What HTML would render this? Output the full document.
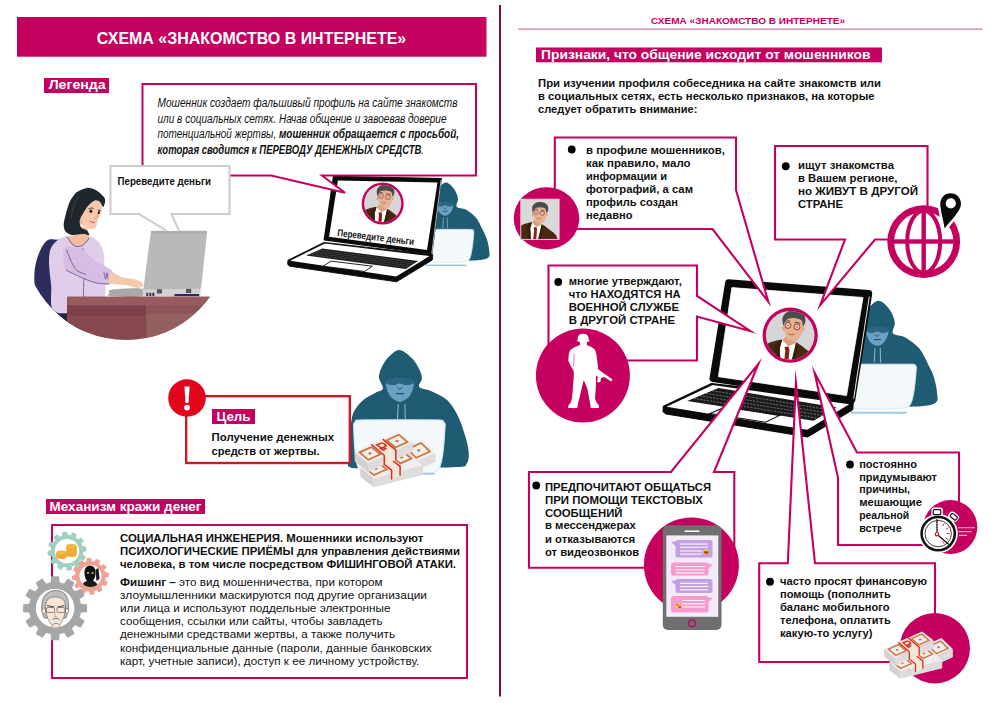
<!DOCTYPE html>
<html lang="ru"><head><meta charset="utf-8"><title>Схема «Знакомство в интернете»</title>
<style>
html,body{margin:0;padding:0;background:#fff;}
body{width:1000px;height:707px;overflow:hidden;font-family:"Liberation Sans",sans-serif;}
svg{display:block;font-family:"Liberation Sans",sans-serif;}
</style></head><body>
<svg width="1000" height="707" viewBox="0 0 1000 707">
<!-- page frame -->
<rect x="0" y="0" width="1000" height="707" fill="#ffffff"/>
<rect x="499" y="5" width="2" height="691.5" fill="#7a0a40"/>
<rect x="17" y="17" width="469.5" height="39.7" fill="#c6005f"/>
<rect x="518" y="28.5" width="464.5" height="1.3" fill="#cd7fab"/>
<rect x="44" y="78" width="65" height="15" fill="#c6005f"/>
<rect x="46" y="499" width="159" height="15" fill="#c6005f"/>
<rect x="536" y="47.5" width="346" height="14.8" fill="#c6005f"/>
<defs>
<clipPath id="womanclip"><circle cx="126" cy="237" r="103"/></clipPath>
</defs>
<!-- woman at desk -->
<g clip-path="url(#womanclip)">
<path d="M54.2 239.5 C48.3 238.5 46.7 240.5 43.7 244.2 C40.7 247.9 37.8 255.7 36.2 261.7 C34.6 267.7 34.1 274.1 34.3 280.4 C34.6 286.6 35.7 293.8 37.8 299.0 C40.0 304.3 43.5 307.6 47.2 311.9 C50.9 316.1 54.8 321.8 60.0 324.7 C65.3 327.6 75.6 341.8 78.7 329.4 C81.8 316.9 82.8 265.0 78.7 250.0 C74.6 235.0 60.0 240.5 54.2 239.5 Z" fill="#2c2d5c"/>
<path d="M53.0 306.0 L85.7 306.0 L85.7 343.4 L53.0 343.4 Z" fill="#23234a"/>
<path d="M69.3 235.5 C66.0 235.3 61.9 237.5 58.8 239.5 C55.8 241.5 52.8 244.0 51.1 247.7 C49.5 251.4 49.0 255.5 49.0 261.7 C49.0 267.9 50.3 276.8 51.1 285.0 C52.0 293.3 48.8 306.7 54.2 311.2 C59.5 315.6 75.4 311.9 83.3 311.9 C91.3 311.8 98.3 314.4 102.0 310.7 C105.7 307.0 105.1 296.7 105.5 289.7 C105.9 282.7 104.6 274.5 104.3 268.7 C104.1 262.8 104.7 259.0 103.9 254.7 C103.0 250.3 101.8 245.7 99.2 242.5 C96.6 239.4 91.8 236.2 88.5 236.0 C85.1 235.8 82.3 241.2 79.1 241.1 C76.0 241.1 72.7 235.8 69.3 235.5 Z" fill="#e0cdea"/>
<path d="M82.9 247.7 C83.0 252.0 83.7 264.8 83.8 273.3 C83.9 281.9 83.4 294.7 83.3 299.0" fill="none" stroke="#5a3d7a" stroke-width="0.7"/>
<path d="M63.5 250.0 C64.3 246.1 67.2 246.5 70.5 246.5 C73.8 246.5 79.3 247.7 83.3 250.0 C87.4 252.3 90.1 256.9 95.0 260.5 C99.9 264.1 110.1 267.6 112.5 271.5 C114.9 275.4 112.4 282.0 109.5 283.9 C106.6 285.7 100.3 284.0 95.0 282.7 C89.7 281.3 82.4 277.8 77.5 275.7 C72.6 273.5 68.2 274.1 65.8 269.8 C63.5 265.6 62.7 253.9 63.5 250.0 Z" fill="#d6bde3"/>
<path d="M65.8 269.8 C67.8 270.8 72.6 273.5 77.5 275.7 C82.4 277.8 89.7 281.3 95.0 282.7 C100.3 284.0 107.1 283.7 109.5 283.9" fill="none" stroke="#5a3d7a" stroke-width="0.7"/>
<path d="M66.5 250.0 C68.0 253.1 71.9 264.6 75.2 268.7 C78.4 272.8 84.3 273.5 86.1 274.5" fill="none" stroke="#5a3d7a" stroke-width="0.7"/>
<path d="M103.9 272.2 L105.5 279.2 L107.1 272.9 L108.5 279.9" fill="none" stroke="#5a3d7a" stroke-width="0.7"/>
<path d="M110.9 272.9 C113.2 272.0 119.0 276.5 123.0 277.5 C127.0 278.6 131.6 278.4 134.7 279.2 C137.8 280.0 140.3 281.1 141.7 282.2 C143.0 283.4 143.6 285.3 142.9 286.2 C142.1 287.1 139.5 287.9 137.0 287.8 C134.5 287.7 130.8 286.0 127.7 285.5 C124.6 284.9 121.5 285.0 118.3 284.6 C115.2 284.1 110.3 284.6 109.0 282.7 C107.8 280.7 108.5 273.7 110.9 272.9 Z" fill="#f6c9ad"/>
<path d="M78.2 225.8 C79.3 225.3 86.7 228.0 87.7 229.0 C88.7 230.0 88.0 235.0 88.1 236.0 C88.3 237.0 89.6 238.0 89.1 238.8 C88.7 239.6 85.0 243.5 83.9 244.3 C82.8 245.0 79.3 246.4 78.2 246.4 C77.1 246.5 73.9 245.6 72.8 244.7 C71.8 243.8 67.1 238.6 67.5 237.5 C67.9 236.5 75.6 235.3 76.7 234.1 C77.7 232.9 77.1 226.3 78.2 225.8 Z" fill="#f2bd9e"/>
<path d="M67.0 237.0 C68.0 238.3 71.0 243.1 72.8 244.7 C74.7 246.3 76.3 246.6 78.2 246.6 C80.0 246.5 82.1 245.8 83.9 244.4 C85.7 243.0 88.3 239.1 89.1 238.0" fill="none" stroke="#5a3d7a" stroke-width="0.8"/>
<path d="M90.9 199.1 C92.8 198.3 98.5 200.0 99.8 201.0 C101.1 202.0 102.0 206.1 102.1 207.4 C102.2 208.6 101.1 210.8 100.8 211.8 C100.6 212.9 100.4 215.5 100.1 216.3 C99.8 217.1 98.6 217.9 98.3 218.4 C98.0 219.0 97.7 220.3 97.5 221.0 C97.4 221.7 97.2 223.5 96.9 224.3 C96.6 225.1 95.9 227.6 95.1 228.1 C94.3 228.7 91.5 229.3 90.3 229.1 C89.0 229.0 85.8 227.4 84.6 226.6 C83.3 225.8 80.1 223.3 79.5 222.0 C78.8 220.7 78.4 217.3 78.8 215.6 C79.3 214.0 81.9 209.9 83.3 208.0 C84.7 206.1 89.0 199.9 90.9 199.1 Z" fill="#f7c8ab"/>
<ellipse cx="80.5" cy="221.8" rx="2" ry="3" fill="#efb594"/>
<path d="M87.1 187.9 C89.6 187.6 93.8 189.0 96.0 190.2 C98.2 191.3 102.4 195.1 103.6 196.5 C104.9 198.0 105.2 199.6 105.2 201.0 C105.1 202.4 103.9 206.9 103.3 207.0 C102.6 207.1 101.2 202.8 100.1 201.9 C98.9 201.0 96.3 199.9 94.7 200.4 C93.2 200.8 89.9 203.8 88.4 205.5 C86.8 207.2 84.4 211.1 83.3 213.1 C82.1 215.1 80.0 218.6 79.7 220.5 C79.4 222.4 80.0 226.0 81.0 227.4 C81.9 228.7 85.7 229.4 86.8 230.4 C88.0 231.4 89.5 234.5 89.4 235.0 C89.3 235.5 87.1 234.5 86.1 234.4 C85.1 234.2 83.9 234.0 82.0 234.1 C80.1 234.2 74.0 235.3 71.8 235.0 C69.6 234.7 66.5 232.9 65.5 231.6 C64.4 230.2 63.6 227.0 63.7 224.6 C63.8 222.1 65.3 216.2 66.1 213.1 C66.9 210.0 68.5 204.4 69.9 201.6 C71.4 198.8 74.6 193.9 76.9 192.1 C79.2 190.3 84.6 188.1 87.1 187.9 Z" fill="#20272c"/>
<path d="M78.2 196.5 C77.3 198.2 74.3 203.1 73.1 206.7 C71.9 210.3 71.5 216.3 71.2 218.2" fill="none" stroke="#56606a" stroke-width="0.5"/>
<ellipse cx="90.9" cy="211.3" rx="1.4" ry="1.8" fill="#1a1a1a"/>
<ellipse cx="98.9" cy="212.6" rx="1.0" ry="1.6" fill="#1a1a1a"/>
<path d="M88.4 209.0 C88.8 208.9 90.0 208.1 90.9 208.0 C91.8 207.9 93.3 208.4 93.7 208.5" stroke="#1a1a1a" stroke-width="0.8" fill="none"/>
<path d="M97.8 210.0 L100.8 210.8" stroke="#1a1a1a" stroke-width="0.8" fill="none"/>
<path d="M97.5 213.7 C97.4 214.4 97.3 217.2 96.8 217.9 C96.2 218.7 94.7 218.1 94.2 218.2" stroke="#c98a6c" stroke-width="0.8" fill="none"/>
<path d="M89.9 221.0 C90.3 221.2 91.6 222.3 92.4 222.5 C93.3 222.7 94.6 222.1 95.0 222.0" stroke="#a84a40" stroke-width="0.9" fill="none"/>
<path d="M111.8 289.7 C117.2 288.9 136.5 287.7 141.7 288.8 C146.9 289.8 148.0 295.0 142.9 296.2 C137.7 297.5 116.4 296.7 110.9 296.2 C105.3 295.7 109.3 294.3 109.5 293.2 C109.6 292.1 106.4 290.4 111.8 289.7 Z" fill="#a9a9a9"/>
<path d="M142.9 287.8 L200.5 287.8 L200.5 296.2 L142.9 296.2 Z" fill="#d2d2d2"/>
<path d="M156.9 287.8 L162.0 287.8 L162.0 293.4 L156.9 293.4 Z" fill="#55565e"/>
<path d="M186.0 287.8 L191.2 287.8 L191.2 293.0 L186.0 293.0 Z" fill="#55565e"/>
<path d="M146.4 292.7 L148.2 292.7 L148.2 296.2 L146.4 296.2 Z" fill="#2b2c55"/>
<path d="M149.4 292.7 L151.3 292.7 L151.3 296.2 L149.4 296.2 Z" fill="#2b2c55"/>
<path d="M152.4 292.7 L154.3 292.7 L154.3 296.2 L152.4 296.2 Z" fill="#2b2c55"/>
<path d="M174.4 293.9 L199.1 293.9 L199.1 296.2 L174.4 296.2 Z" fill="#2b2c55"/>
<path d="M151.5 231.3 L206.6 231.3 L200.5 288.1 L144.0 288.8 Z" fill="#b9b9b9" stroke="#b9b9b9" stroke-width="1.2" stroke-linejoin="round"/>
<path d="M151.5 231.3 L206.6 231.3 L206.3 233.2 L151.3 233.2 Z" fill="#adadad"/>
<path d="M67.0 296.7 L211.7 296.7 L211.7 348.0 L67.0 348.0 Z" fill="#87494f"/>
<path d="M67.0 296.7 L211.7 296.7 L211.7 305.6 L67.0 305.6 Z" fill="#975b5d"/>
<path d="M67.0 305.6 L146.4 305.6 L146.4 315.4 L67.0 315.4 Z" fill="#7c404a"/>
<path d="M146.4 305.6 L211.7 305.6 L211.7 348.0 L146.4 348.0 Z" fill="#94605f"/>
<path d="M146.4 305.6 L211.7 305.6 L211.7 313.5 L146.4 313.5 Z" fill="#8b5558"/>
</g>
<!-- hacker B-type -->
<path d="M446.0 182.6 C447.9 182.6 450.1 184.5 451.8 186.3 C453.6 188.0 455.2 190.6 456.2 192.8 C457.3 195.0 457.9 197.1 458.0 199.4 C458.1 201.7 455.4 205.0 456.7 206.7 C458.0 208.4 462.5 207.8 465.7 209.6 C468.9 211.5 473.2 214.4 476.0 217.7 C478.8 221.0 480.8 226.0 482.5 229.4 C484.3 232.8 485.4 234.7 486.5 238.1 C487.6 241.5 489.0 246.5 489.1 249.8 C489.3 253.2 490.8 256.5 487.4 258.3 C483.9 260.1 477.9 260.4 468.7 260.8 C459.4 261.2 442.1 261.2 432.1 260.8 C422.1 260.4 412.4 262.6 408.7 258.6 C405.1 254.6 409.0 243.2 410.2 236.7 C411.4 230.1 413.4 223.5 416.0 219.1 C418.7 214.8 423.1 212.4 426.3 210.4 C429.5 208.3 434.0 208.5 435.3 206.7 C436.6 204.9 433.9 201.7 434.0 199.4 C434.1 197.1 434.7 195.0 435.8 192.8 C436.8 190.6 438.4 188.0 440.2 186.3 C441.9 184.5 444.1 182.6 446.0 182.6 Z" fill="#1f5b73"/>
<path d="M437.7 203.4 C439.0 202.5 442.5 202.2 445.0 202.2 C447.5 202.2 451.3 202.5 452.6 203.4 C453.9 204.2 453.2 205.9 452.9 207.4 C452.5 209.0 451.6 211.2 450.5 212.6 C449.5 213.9 447.9 215.0 446.7 215.5 C445.6 216.0 444.7 216.0 443.5 215.5 C442.3 215.0 440.5 213.9 439.4 212.6 C438.4 211.2 437.5 209.0 437.2 207.4 C436.9 205.9 436.4 204.2 437.7 203.4 Z" fill="#6aa0c2"/>
<path d="M437.4 203.1 C438.7 202.4 442.4 201.6 445.0 201.6 C447.6 201.6 451.5 202.4 452.9 203.1 C454.2 203.7 453.7 204.8 453.0 205.4 C452.3 206.0 449.8 206.4 448.5 206.4 C447.1 206.4 446.1 205.3 445.0 205.3 C443.8 205.3 442.8 206.4 441.5 206.4 C440.2 206.4 437.9 206.0 437.2 205.4 C436.5 204.8 436.1 203.7 437.4 203.1 Z" fill="#2a6583"/>
<path d="M443.5 207.4 C443.8 207.7 444.5 208.9 445.0 208.9 C445.5 208.9 446.2 207.7 446.4 207.4" stroke="#1b4459" stroke-width="0.66" fill="none"/>
<path d="M442.6 211.2 L447.6 211.2" stroke="#1b4459" stroke-width="0.74" fill="none"/>
<path d="M443.4 217.4 L442.8 228.2" stroke="#9fc3d3" stroke-width="0.66" fill="none"/>
<path d="M447.2 217.4 L447.5 228.2" stroke="#9fc3d3" stroke-width="0.66" fill="none"/>
<path d="M417.5 232.3 C417.4 229.7 418.4 230.3 418.7 230.1 C419.0 229.9 416.9 229.4 421.2 229.4 C425.4 229.3 465.8 229.3 470.1 229.4 C474.4 229.4 472.4 229.8 472.7 230.1 C473.1 230.4 474.3 230.0 473.9 232.6 C473.5 235.1 472.5 258.4 468.1 260.8 C463.6 263.1 424.6 263.2 420.4 260.8 C416.2 258.4 417.6 234.8 417.5 232.3 Z" fill="#f3f8fb" stroke="#d5e8f1" stroke-width="0.66"/>
<path d="M425.5 265.2 L466.6 265.2" stroke="#9ccbe0" stroke-width="1.48" fill="none"/>
<!-- left laptop -->
<path d="M324.0 242.4 L287.9 260.3 L287.7 264.4 L289.7 266.2 L396.6 281.8 L432.3 260.0 L432.7 254.8 Z" fill="#0a0a0a" stroke="#0a0a0a" stroke-width="0.9" stroke-linejoin="round"/>
<path d="M324.9 243.5 L290.1 260.7 L396.2 276.6 L429.6 256.1 Z" fill="#fff"/>
<path d="M322.2 248.6 L306.0 255.6 L405.9 268.9 L418.2 260.9 Z" fill="#1b1b1b"/>
<path d="M319.0 250.0 L415.7 262.5" stroke="#e8e8e8" stroke-width="0.45" stroke-dasharray="1.6 0.9" stroke-opacity="0.5" fill="none"/>
<path d="M315.7 251.4 L413.2 264.1" stroke="#e8e8e8" stroke-width="0.45" stroke-dasharray="1.6 0.9" stroke-opacity="0.5" fill="none"/>
<path d="M312.5 252.8 L410.8 265.7" stroke="#e8e8e8" stroke-width="0.45" stroke-dasharray="1.6 0.9" stroke-opacity="0.5" fill="none"/>
<path d="M309.2 254.2 L408.3 267.3" stroke="#e8e8e8" stroke-width="0.45" stroke-dasharray="1.6 0.9" stroke-opacity="0.5" fill="none"/>
<path d="M331.0 261.1 L323.1 266.2 L364.7 271.5 L372.4 266.2 Z" fill="#fff" stroke="#0a0a0a" stroke-width="0.9"/>
<path d="M333.5 176.4 L441.3 178.6 L431.8 254.1 L324.2 239.8 Z" fill="#0a0a0a" stroke="#0a0a0a" stroke-width="1.2" stroke-linejoin="round"/>
<path d="M337.9 180.4 L437.5 182.4 L427.0 249.9 L329.1 236.7 Z" fill="#fff"/>
<path d="M441.1 180.0 L431.8 253.4" stroke="#fff" stroke-width="0.7" fill="none"/>
<circle cx="382.7" cy="203.5" r="21" fill="#c6005f"/>
<clipPath id="manclip1"><circle cx="382.7" cy="203.5" r="18.6"/></clipPath>
<circle cx="382.7" cy="203.5" r="18.6" fill="#d6d6d6"/>
<g clip-path="url(#manclip1)">
<path d="M375.3 207.0 C373.1 207.1 366.2 209.1 364.9 210.2 C363.7 211.2 362.6 215.3 362.4 217.8 C362.1 220.3 358.6 233.4 362.8 235.1 C366.9 236.8 399.9 236.5 403.9 235.1 C407.9 233.7 403.9 223.3 403.0 221.3 C402.2 219.2 397.2 216.2 395.7 215.0 C394.1 213.8 389.5 209.9 387.5 209.1 C385.4 208.3 377.6 206.9 375.3 207.0 Z" fill="#472a12"/>
<path d="M376.5 207.0 L374.6 213.5 L375.8 235.1 L381.8 235.1 L387.0 210.0 L386.2 207.4 Z" fill="#ffffff"/>
<path d="M375.3 207.0 L370.6 211.3 L374.6 235.1 L376.0 235.1 L374.6 213.5 L376.5 207.2 Z" fill="#3a200c"/>
<path d="M387.0 209.6 L389.2 213.5 L382.3 235.1 L380.7 235.1 Z" fill="#3a200c"/>
<path d="M379.5 204.4 L386.8 205.2 L386.6 209.6 L381.4 212.2 L376.6 207.2 Z" fill="#d9a27e"/>
<path d="M378.4 212.6 L381.4 212.2 L382.1 214.8 L380.5 235.1 L376.6 235.1 L379.0 215.6 Z" fill="#8f1d14"/>
<path d="M378.4 191.4 C379.6 189.9 383.0 189.1 385.3 189.2 C387.6 189.4 391.0 190.7 392.2 192.2 C393.4 193.8 392.8 196.6 392.5 198.7 C392.1 200.9 391.1 203.6 390.1 205.2 C389.0 206.8 387.4 207.9 386.2 208.3 C384.9 208.6 383.8 208.1 382.7 207.4 C381.6 206.7 380.3 205.5 379.5 203.9 C378.7 202.3 378.3 200.0 378.1 197.9 C377.9 195.8 377.2 192.8 378.4 191.4 Z" fill="#e6b391"/>
<ellipse cx="377.7" cy="198.3" rx="1.07" ry="1.84" fill="#dea583"/>
<ellipse cx="392.7" cy="198.7" rx="0.92" ry="1.68" fill="#dea583"/>
<path d="M377.5 196.1 C377.2 195.7 376.4 191.8 376.9 190.1 C377.4 188.3 378.9 186.6 380.5 185.7 C382.2 184.9 384.6 184.5 386.6 184.7 C388.6 184.9 391.4 185.8 392.7 187.0 C394.0 188.3 394.4 190.7 394.4 192.2 C394.4 193.8 393.2 196.6 392.7 196.6 C392.2 196.6 392.4 193.3 391.4 192.2 C390.3 191.2 388.3 190.7 386.6 190.5 C384.9 190.3 382.7 190.6 381.4 190.9 C380.1 191.3 379.6 192.0 379.0 192.8 C378.3 193.7 377.9 196.6 377.5 196.1 Z" fill="#4c4c4c"/>
<circle cx="381.0" cy="196.0" r="2.30" fill="#f6ddd0" fill-opacity="0.4" stroke="#7d2630" stroke-width="0.61"/>
<circle cx="387.9" cy="197.2" r="2.30" fill="#f6ddd0" fill-opacity="0.4" stroke="#7d2630" stroke-width="0.61"/>
<circle cx="381.0" cy="196.0" r="0.46" fill="#333"/>
<circle cx="387.9" cy="197.2" r="0.46" fill="#333"/>
<path d="M378.4 192.8 L382.7 192.5" stroke="#3a3a3a" stroke-width="0.69" fill="none"/>
<path d="M386.2 193.5 L390.5 194.4" stroke="#3a3a3a" stroke-width="0.69" fill="none"/>
<path d="M381.4 202.4 C381.8 202.5 382.8 203.0 383.6 203.1 C384.4 203.1 385.8 202.9 386.3 202.8" stroke="#9b5a48" stroke-width="0.69" fill="none"/>
</g>
<!-- legend box + tail -->
<path d="M142.5 84 H476 V175.5 H322 L345 192.8 L271 175.5 H142.5 Z" fill="#fff" stroke="#c6005f" stroke-width="2" stroke-linejoin="miter"/>
<!-- speech bubble (grey) -->
<path d="M166.3 230.6 L139 214 H110.5 V166 H229.5 V214 H171.5 L179 230.6 Z" fill="#fff"/>
<path d="M166.3 230.6 L139 214 H110.5 V166 H229.5 V214 H171.5 L179 230.6" fill="none" stroke="#cdcdcd" stroke-width="2.1" stroke-linejoin="miter"/>
<!-- hacker A -->
<path d="M399.2 349.9 C402.9 349.9 407.9 354.4 411.2 357.5 C414.5 360.6 417.1 365.0 418.9 368.5 C420.7 372.0 421.9 375.2 421.9 378.3 C422.0 381.4 417.6 384.9 419.3 387.1 C421.0 389.3 427.4 389.3 432.0 391.5 C436.7 393.7 443.0 396.1 447.4 400.3 C451.7 404.5 455.2 410.3 458.3 416.7 C461.4 423.1 464.2 432.4 466.0 438.6 C467.7 444.8 468.7 449.7 468.8 453.9 C468.9 458.1 468.4 461.6 466.6 463.8 C464.9 466.0 468.5 466.4 458.3 467.1 C448.2 467.8 423.3 467.8 405.7 468.0 C388.1 468.1 362.0 469.6 352.7 468.0 C343.4 466.4 350.7 462.5 350.1 458.3 C349.5 454.2 349.1 448.1 349.2 443.0 C349.3 437.9 349.8 432.8 350.5 427.6 C351.2 422.5 351.5 416.9 353.6 412.3 C355.7 407.7 359.4 403.5 363.0 400.3 C366.6 397.0 371.7 395.0 375.1 393.0 C378.4 391.1 382.3 391.2 382.9 388.6 C383.6 386.1 379.2 381.2 379.0 377.7 C378.8 374.1 380.0 370.8 381.6 367.4 C383.2 364.0 385.7 360.0 388.6 357.1 C391.6 354.2 395.4 349.8 399.2 349.9 Z" fill="#1f5b73"/>
<path d="M387.1 380.5 C389.3 379.2 395.3 379.0 399.6 379.0 C403.9 379.0 410.4 379.2 412.7 380.5 C415.0 381.9 413.9 384.6 413.4 387.1 C412.9 389.7 411.5 393.5 409.7 395.9 C407.8 398.2 404.5 400.4 402.4 401.3 C400.4 402.3 399.5 402.3 397.4 401.3 C395.3 400.4 391.8 398.2 390.0 395.9 C388.1 393.5 386.9 389.7 386.5 387.1 C386.0 384.6 384.9 381.9 387.1 380.5 Z" fill="#6aa0c2"/>
<path d="M386.7 380.1 C388.9 379.1 395.2 378.1 399.6 378.1 C404.0 378.1 410.9 379.1 413.2 380.1 C415.5 381.0 414.6 383.0 413.4 383.8 C412.2 384.7 408.0 385.2 405.7 385.1 C403.4 385.1 401.6 383.4 399.6 383.4 C397.6 383.4 395.9 385.1 393.7 385.1 C391.5 385.2 387.6 384.7 386.5 383.8 C385.3 383.0 384.5 381.0 386.7 380.1 Z" fill="#2a6583"/>
<path d="M397.4 387.1 C397.8 387.5 398.8 389.3 399.6 389.3 C400.4 389.3 401.8 387.5 402.2 387.1" stroke="#1b4459" stroke-width="1" fill="none"/>
<path d="M395.9 393.7 L404.0 393.7" stroke="#1b4459" stroke-width="1.1" fill="none"/>
<path d="M398.3 404.0 L397.4 420.0" stroke="#9fc3d3" stroke-width="0.9" fill="none"/>
<path d="M404.9 404.0 L405.3 420.0" stroke="#9fc3d3" stroke-width="0.9" fill="none"/>
<path d="M353.6 426.5 C353.1 422.4 354.8 422.1 355.3 421.5 C355.8 421.0 352.8 420.1 359.7 420.0 C366.7 419.8 431.6 419.8 438.6 420.0 C445.6 420.1 442.9 421.0 443.4 421.5 C444.0 422.1 445.7 422.4 445.2 426.5 C444.6 430.7 443.9 467.7 436.8 471.5 C429.8 475.2 367.8 475.2 360.8 471.5 C353.9 467.7 354.0 430.7 353.6 426.5 Z" fill="#f3f8fb" stroke="#d5e8f1" stroke-width="1"/>
<path d="M405.7 473.7 L434.7 473.7" stroke="#9ccbe0" stroke-width="1.8" fill="none"/>
<!-- money -->
<path d="M377.5 459.3 L390.9 472.5 L390.9 482.0 L377.5 468.8 Z" fill="#d6d4d3"/>
<path d="M390.9 472.5 L435.4 452.5 L435.4 461.9 L390.9 482.0 Z" fill="#e2e0df"/>
<path d="M377.5 461.2 L390.9 474.4 L435.4 454.4" stroke="#cbc9c8" stroke-width="0.30" fill="none"/>
<path d="M377.5 463.1 L390.9 476.3 L435.4 456.2" stroke="#cbc9c8" stroke-width="0.30" fill="none"/>
<path d="M377.5 465.0 L390.9 478.2 L435.4 458.1" stroke="#cbc9c8" stroke-width="0.30" fill="none"/>
<path d="M377.5 466.9 L390.9 480.1 L435.4 460.0" stroke="#cbc9c8" stroke-width="0.30" fill="none"/>
<path d="M377.5 459.3 L422.0 439.2 L435.4 452.5 L390.9 472.5 Z" fill="#f0eeed"/>
<path d="M407.3 449.1 L421.1 442.9 L430.0 451.6 L416.2 457.8 Z" fill="none" stroke="#c9743f" stroke-width="1.70"/>
<ellipse cx="418.7" cy="450.4" rx="1.70" ry="1.10" fill="#c9743f"/>
<path d="M398.4 449.8 L402.2 448.1 L415.6 461.4 L415.6 470.9 L411.8 472.6 L411.8 463.1 Z" fill="#f6e6d6"/>
<path d="M398.4 449.8 L411.8 463.1 L411.8 472.6" stroke="#dc2a1f" stroke-width="1.50" fill="none"/>
<path d="M402.2 448.1 L415.6 461.4 L415.6 470.9" stroke="#dc2a1f" stroke-width="1.50" fill="none"/>
<path d="M360.4 467.6 L373.7 478.0 L373.7 487.3 L360.4 476.9 Z" fill="#d6d4d3"/>
<path d="M373.7 478.0 L422.9 465.7 L422.9 475.0 L373.7 487.3 Z" fill="#e2e0df"/>
<path d="M360.4 469.5 L373.7 479.9 L422.9 467.6" stroke="#cbc9c8" stroke-width="0.30" fill="none"/>
<path d="M360.4 471.3 L373.7 481.7 L422.9 469.4" stroke="#cbc9c8" stroke-width="0.30" fill="none"/>
<path d="M360.4 473.2 L373.7 483.6 L422.9 471.3" stroke="#cbc9c8" stroke-width="0.30" fill="none"/>
<path d="M360.4 475.0 L373.7 485.5 L422.9 473.1" stroke="#cbc9c8" stroke-width="0.30" fill="none"/>
<path d="M360.4 467.6 L403.0 448.7 L422.9 465.7 L373.7 478.0 Z" fill="#f0eeed"/>
<path d="M365.2 468.2 L378.0 462.6 L386.8 469.4 L374.0 475.1 Z" fill="none" stroke="#c9743f" stroke-width="1.70"/>
<ellipse cx="376.0" cy="468.8" rx="1.70" ry="1.10" fill="#c9743f"/>
<path d="M391.6 456.5 L402.7 451.6 L411.5 458.5 L400.4 463.4 Z" fill="none" stroke="#c9743f" stroke-width="1.70"/>
<ellipse cx="401.6" cy="457.5" rx="1.70" ry="1.10" fill="#c9743f"/>
<path d="M378.3 459.7 L386.8 455.9 L400.1 466.3 L400.1 475.6 L391.6 479.4 L391.6 470.1 Z" fill="#f6e6d6"/>
<path d="M378.3 459.7 L391.6 470.1 L391.6 479.4" stroke="#dc2a1f" stroke-width="1.50" fill="none"/>
<path d="M386.8 455.9 L400.1 466.3 L400.1 475.6" stroke="#dc2a1f" stroke-width="1.50" fill="none"/>
<path d="M354.7 451.7 L367.8 462.9 L367.8 472.3 L354.7 461.2 Z" fill="#d6d4d3"/>
<path d="M367.8 462.9 L412.7 442.0 L412.7 451.5 L367.8 472.3 Z" fill="#e2e0df"/>
<path d="M354.7 453.6 L367.8 464.8 L412.7 443.9" stroke="#cbc9c8" stroke-width="0.30" fill="none"/>
<path d="M354.7 455.5 L367.8 466.7 L412.7 445.8" stroke="#cbc9c8" stroke-width="0.30" fill="none"/>
<path d="M354.7 457.4 L367.8 468.6 L412.7 447.7" stroke="#cbc9c8" stroke-width="0.30" fill="none"/>
<path d="M354.7 459.3 L367.8 470.5 L412.7 449.6" stroke="#cbc9c8" stroke-width="0.30" fill="none"/>
<path d="M354.7 451.7 L399.2 431.6 L412.7 442.0 L367.8 462.9 Z" fill="#f0eeed"/>
<path d="M359.6 452.4 L371.6 447.0 L380.3 454.4 L368.3 459.8 Z" fill="none" stroke="#c9743f" stroke-width="1.70"/>
<ellipse cx="369.9" cy="453.4" rx="1.70" ry="1.10" fill="#c9743f"/>
<path d="M386.8 440.2 L398.8 434.7 L407.4 442.1 L395.4 447.5 Z" fill="none" stroke="#c9743f" stroke-width="1.70"/>
<ellipse cx="397.1" cy="441.1" rx="1.70" ry="1.10" fill="#c9743f"/>
<path d="M371.2 444.3 L382.8 439.1 L395.8 450.2 L395.8 459.7 L384.3 464.9 L384.3 455.5 Z" fill="#f6e6d6"/>
<path d="M371.2 444.3 L384.3 455.5 L384.3 464.9" stroke="#dc2a1f" stroke-width="1.50" fill="none"/>
<path d="M382.8 439.1 L395.8 450.2 L395.8 459.7" stroke="#dc2a1f" stroke-width="1.50" fill="none"/>
<g transform="translate(382.9,446.7) rotate(-24) skewX(30) scale(1.00)"><path d="M-2.4 4.2 V-4 H1.2 A2.4 2.4 0 0 1 1.2 0.8 H-4 M-4 2.8 H1.2" fill="none" stroke="#dc2a1f" stroke-width="1.7"/></g>
<!-- goal box -->
<rect x="186.2" y="396.2" width="163.6" height="66.8" fill="#fff" stroke="#cc1a26" stroke-width="2.4"/>
<rect x="212" y="409" width="43" height="15" fill="#c6005f"/>
<!-- alert circle -->
<circle cx="187" cy="398" r="18.8" fill="#e2061c"/>
<path d="M184.4 386.6 H189.6 L188.5 403 H185.5 Z" fill="#fff"/>
<circle cx="187" cy="407.6" r="2.9" fill="#fff"/>
<!-- mechanism box -->
<rect x="52" y="525" width="415" height="153" fill="#fff" stroke="#c6005f" stroke-width="2"/>
<!-- gears -->
<path d="M82.3 555.0 L85.3 556.7 L83.7 560.3 L80.5 559.4 L78.3 562.1 L80.0 565.1 L76.9 567.5 L74.5 565.0 L71.3 566.3 L71.3 569.7 L67.4 570.2 L66.6 566.9 L63.1 566.4 L61.4 569.4 L57.8 567.8 L58.7 564.6 L56.0 562.4 L53.0 564.1 L50.6 561.0 L53.1 558.6 L51.8 555.4 L48.4 555.4 L47.9 551.5 L51.2 550.7 L51.7 547.2 L48.7 545.5 L50.3 541.9 L53.5 542.8 L55.7 540.1 L54.0 537.1 L57.1 534.7 L59.5 537.2 L62.7 535.9 L62.7 532.5 L66.6 532.0 L67.4 535.3 L70.9 535.8 L72.6 532.8 L76.2 534.4 L75.3 537.6 L78.0 539.8 L81.0 538.1 L83.4 541.2 L80.9 543.6 L82.2 546.8 L85.6 546.8 L86.1 550.7 L82.8 551.5 Z" fill="#9fd0c1" stroke="#9fd0c1" stroke-width="1" stroke-linejoin="round"/>
<circle cx="67" cy="551.1" r="12.2" fill="#fff"/>
<ellipse cx="61.5" cy="556.5" rx="5" ry="2.3" fill="#f6b93b" stroke="#d9952a" stroke-width="0.5"/>
<ellipse cx="61.5" cy="554.9" rx="5" ry="2.3" fill="#f6b93b" stroke="#d9952a" stroke-width="0.5"/>
<ellipse cx="61.5" cy="553.3" rx="5" ry="2.3" fill="#f6b93b" stroke="#d9952a" stroke-width="0.5"/>
<ellipse cx="71.5" cy="554.5" rx="5" ry="2.3" fill="#f6b93b" stroke="#d9952a" stroke-width="0.5"/>
<ellipse cx="71.5" cy="552.9" rx="5" ry="2.3" fill="#f6b93b" stroke="#d9952a" stroke-width="0.5"/>
<ellipse cx="71.5" cy="551.3" rx="5" ry="2.3" fill="#f6b93b" stroke="#d9952a" stroke-width="0.5"/>
<ellipse cx="71.5" cy="549.7" rx="5" ry="2.3" fill="#f6b93b" stroke="#d9952a" stroke-width="0.5"/>
<ellipse cx="71.5" cy="548.1" rx="5" ry="2.3" fill="#f6b93b" stroke="#d9952a" stroke-width="0.5"/>
<ellipse cx="71.5" cy="546.5" rx="5" ry="2.3" fill="#f6b93b" stroke="#d9952a" stroke-width="0.5"/>
<path d="M104.6 580.5 L107.4 582.2 L105.8 585.6 L102.7 584.5 L100.6 587.0 L102.2 589.9 L99.1 592.0 L97.0 589.6 L93.9 590.7 L93.8 594.0 L90.1 594.3 L89.5 591.1 L86.2 590.5 L84.5 593.3 L81.1 591.7 L82.2 588.6 L79.7 586.5 L76.8 588.1 L74.7 585.0 L77.1 582.9 L76.0 579.8 L72.7 579.7 L72.4 576.0 L75.6 575.4 L76.2 572.1 L73.4 570.4 L75.0 567.0 L78.1 568.1 L80.2 565.6 L78.6 562.7 L81.7 560.6 L83.8 563.0 L86.9 561.9 L87.0 558.6 L90.7 558.3 L91.3 561.5 L94.6 562.1 L96.3 559.3 L99.7 560.9 L98.6 564.0 L101.1 566.1 L104.0 564.5 L106.1 567.6 L103.7 569.7 L104.8 572.8 L108.1 572.9 L108.4 576.6 L105.2 577.2 Z" fill="#f0a193" stroke="#f0a193" stroke-width="1" stroke-linejoin="round"/>
<circle cx="90.5" cy="576" r="11" fill="#fff"/>
<clipPath id="robclip"><circle cx="90.5" cy="576" r="11"/></clipPath>
<g clip-path="url(#robclip)">
<path d="M81 590 C82 582 86 580.5 90 580.5 C95 580.5 98 583 99 590 Z" fill="#1a1a1a"/>
<path d="M84.5 574 C84 568 87 565.5 90 565.5 C94 565.5 96 569 95.5 574 C95 579.5 92.5 582 90 582 C87 582 85 579 84.5 574 Z" fill="#111"/>
<ellipse cx="88" cy="573" rx="1.3" ry="0.8" fill="#f3d6c2"/><ellipse cx="92.6" cy="573" rx="1.3" ry="0.8" fill="#f3d6c2"/>
<path d="M95.5 569.5 L98.5 568 L99.5 579 L96.5 581 Z" fill="#1a1a1a"/>
</g>
<path d="M80.4 604.4 L86.3 604.9 L86.3 611.5 L80.4 612.0 L78.9 617.5 L83.8 621.0 L80.5 626.7 L75.1 624.2 L71.1 628.2 L73.6 633.6 L67.9 636.9 L64.4 632.0 L58.9 633.5 L58.4 639.4 L51.8 639.4 L51.3 633.5 L45.8 632.0 L42.3 636.9 L36.6 633.6 L39.1 628.2 L35.1 624.2 L29.7 626.7 L26.4 621.0 L31.3 617.5 L29.8 612.0 L23.9 611.5 L23.9 604.9 L29.8 604.4 L31.3 598.9 L26.4 595.4 L29.7 589.7 L35.1 592.2 L39.1 588.2 L36.6 582.8 L42.3 579.5 L45.8 584.4 L51.3 582.9 L51.8 577.0 L58.4 577.0 L58.9 582.9 L64.4 584.4 L67.9 579.5 L73.6 582.8 L71.1 588.2 L75.1 592.2 L80.5 589.7 L83.8 595.4 L78.9 598.9 Z" fill="#a6a6a6" stroke="#a6a6a6" stroke-width="1.5" stroke-linejoin="round"/>
<circle cx="55.1" cy="608.2" r="19.3" fill="#fff"/>
<clipPath id="oldclip"><circle cx="54.9" cy="608.3" r="18.8"/></clipPath>
<g clip-path="url(#oldclip)">
<path d="M42 612 C40 598 46 590.5 56 590.5 C66 590.5 70 598 68 612 L66 618 L44 618 Z" fill="#bdbdbd" stroke="#555" stroke-width="0.6"/>
<path d="M45.5 606 C46 599 50 596.5 56 597 C62 597.5 65.5 600 65.5 607 C65.5 616 62 624 56 628 C49 624 45.5 616 45.5 606 Z" fill="#f9e6d8" stroke="#555" stroke-width="0.6"/>
<ellipse cx="43.8" cy="611" rx="1.8" ry="3" fill="#f9e6d8" stroke="#555" stroke-width="0.5"/>
<ellipse cx="67" cy="611" rx="1.6" ry="2.8" fill="#f9e6d8" stroke="#555" stroke-width="0.5"/>
<rect x="46.5" y="607.5" width="8" height="5" rx="1.2" fill="none" stroke="#444" stroke-width="0.6"/>
<rect x="57" y="607.5" width="8" height="5" rx="1.2" fill="none" stroke="#444" stroke-width="0.6"/>
<path d="M47 605.5 L54 607 M64.5 605.5 L57.5 607" stroke="#333" stroke-width="0.9" fill="none"/>
<path d="M52.5 619.5 C54.5 618 57.5 618 59.5 619.5" stroke="#444" stroke-width="0.7" fill="none"/>
<path d="M55.5 612 L54.5 616.5 L57 616.5" stroke="#777" stroke-width="0.5" fill="none"/>
<path d="M52 626 C53 622.5 59 622.5 60 626 L60 630 L52 630 Z" fill="#f9e6d8" stroke="#555" stroke-width="0.6"/>
</g>
<!-- hacker B-type -->
<path d="M878.6 300.8 C881.2 300.8 884.2 303.4 886.5 305.8 C888.8 308.1 891.1 311.7 892.5 314.7 C893.8 317.6 894.7 320.4 894.8 323.6 C894.9 326.7 891.3 331.2 893.1 333.5 C894.8 335.8 901.0 335.0 905.3 337.4 C909.7 339.9 915.4 343.9 919.2 348.3 C923.0 352.8 925.7 359.5 928.1 364.2 C930.5 368.8 932.0 371.4 933.5 376.0 C934.9 380.7 936.8 387.3 937.0 391.9 C937.2 396.4 939.3 400.9 934.6 403.4 C930.0 405.8 921.8 406.2 909.3 406.7 C896.8 407.3 873.3 407.2 859.8 406.7 C846.3 406.2 833.1 409.2 828.1 403.8 C823.2 398.3 828.4 383.0 830.1 374.1 C831.7 365.2 834.4 356.2 838.0 350.3 C841.6 344.4 847.5 341.2 851.9 338.4 C856.2 335.6 862.4 335.9 864.1 333.5 C865.9 331.0 862.3 326.7 862.4 323.6 C862.5 320.4 863.4 317.6 864.7 314.7 C866.1 311.7 868.4 308.1 870.7 305.8 C873.0 303.4 876.0 300.8 878.6 300.8 Z" fill="#1f5b73"/>
<path d="M867.3 328.9 C869.1 327.7 873.8 327.3 877.2 327.3 C880.6 327.3 885.7 327.7 887.5 328.9 C889.3 330.1 888.4 332.4 887.9 334.5 C887.4 336.5 886.1 339.6 884.7 341.4 C883.4 343.2 881.2 344.7 879.6 345.4 C878.0 346.0 876.9 346.0 875.2 345.4 C873.6 344.7 871.1 343.2 869.7 341.4 C868.3 339.6 867.1 336.5 866.7 334.5 C866.3 332.4 865.6 330.1 867.3 328.9 Z" fill="#6aa0c2"/>
<path d="M866.9 328.5 C868.7 327.7 873.7 326.5 877.2 326.5 C880.7 326.5 886.1 327.7 887.9 328.5 C889.7 329.4 889.1 330.9 888.1 331.7 C887.1 332.5 883.8 333.1 882.0 333.1 C880.2 333.0 878.8 331.5 877.2 331.5 C875.6 331.5 874.2 333.0 872.5 333.1 C870.7 333.1 867.6 332.5 866.7 331.7 C865.8 330.9 865.2 329.4 866.9 328.5 Z" fill="#2a6583"/>
<path d="M875.2 334.5 C875.6 334.8 876.6 336.4 877.2 336.4 C877.9 336.4 878.9 334.8 879.2 334.5" stroke="#1b4459" stroke-width="0.90" fill="none"/>
<path d="M874.0 339.6 L880.8 339.6" stroke="#1b4459" stroke-width="1.00" fill="none"/>
<path d="M875.0 347.9 L874.2 362.6" stroke="#9fc3d3" stroke-width="0.90" fill="none"/>
<path d="M880.2 347.9 L880.6 362.6" stroke="#9fc3d3" stroke-width="0.90" fill="none"/>
<path d="M840.0 368.1 C839.8 364.7 841.2 365.5 841.6 365.2 C842.0 364.8 839.1 364.2 844.9 364.2 C850.7 364.1 905.4 364.1 911.3 364.2 C917.1 364.2 914.4 364.8 914.8 365.2 C915.3 365.5 916.9 365.1 916.4 368.5 C915.9 372.0 914.5 403.6 908.5 406.7 C902.5 409.9 849.7 410.0 843.9 406.7 C838.2 403.5 840.2 371.6 840.0 368.1 Z" fill="#f3f8fb" stroke="#d5e8f1" stroke-width="0.90"/>
<path d="M850.9 412.7 L906.5 412.7" stroke="#9ccbe0" stroke-width="2.00" fill="none"/>
<!-- right laptop -->
<path d="M711.5 383.6 L663.5 406.4 L663.2 411.5 L666.2 413.9 L807.8 436.7 L852.5 409.7 L853.4 400.4 Z" fill="#0a0a0a" stroke="#0a0a0a" stroke-width="1.4" stroke-linejoin="round"/>
<path d="M712.7 385.1 L666.5 406.7 L807.2 429.8 L849.2 404.3 Z" fill="#fff"/>
<path d="M718.4 388.1 L687.2 401.0 L813.5 420.8 L836.6 407.6 Z" fill="#1b1b1b"/>
<path d="M712.2 390.7 L832.0 410.2" stroke="#e8e8e8" stroke-width="0.65" stroke-dasharray="2.2 1.2" stroke-opacity="0.6" fill="none"/>
<path d="M705.9 393.3 L827.4 412.9" stroke="#e8e8e8" stroke-width="0.65" stroke-dasharray="2.2 1.2" stroke-opacity="0.6" fill="none"/>
<path d="M699.7 395.8 L822.7 415.5" stroke="#e8e8e8" stroke-width="0.65" stroke-dasharray="2.2 1.2" stroke-opacity="0.6" fill="none"/>
<path d="M693.4 398.4 L818.1 418.2" stroke="#e8e8e8" stroke-width="0.65" stroke-dasharray="2.2 1.2" stroke-opacity="0.6" fill="none"/>
<path d="M725.0 407.0 L710.0 413.6 L765.5 422.3 L779.6 415.4 Z" fill="#fff" stroke="#0a0a0a" stroke-width="1.1"/>
<path d="M728.6 282.8 L868.7 293.6 L851.9 399.5 L713.0 378.5 Z" fill="#0a0a0a" stroke="#0a0a0a" stroke-width="7" stroke-linejoin="round"/>
<path d="M731.9 287.6 L863.0 297.5 L846.5 395.6 L718.4 376.7 Z" fill="#fff" stroke="#fff" stroke-width="0.8" stroke-linejoin="round"/>
<path d="M869.3 296.6 L853.7 398.6" stroke="#fff" stroke-width="0.9" fill="none"/>
<!-- right page callouts -->
<path d="M554.8 229.0 L554.8 137.5 L736.0 137.5 L736.0 190.0 L768.3 301.7 L712.5 229.0 L554.8 229.0 Z" fill="#fff" stroke="#c6005f" stroke-width="2.1" stroke-linejoin="miter" stroke-miterlimit="40"/>
<path d="M927.5 239.5 L927.5 146.0 L775.0 146.0 L775.0 239.5 L845.0 239.5 L820.2 305.1 L875.0 239.5 Z" fill="#fff" stroke="#c6005f" stroke-width="2.1" stroke-linejoin="miter" stroke-miterlimit="40"/>
<path d="M548.5 360.5 L548.5 265.5 L697.0 265.5 L697.0 296.0 L750.2 330.9 L697.0 316.5 L697.0 360.5 Z" fill="#fff" stroke="#c6005f" stroke-width="2.1" stroke-linejoin="miter" stroke-miterlimit="40"/>
<path d="M529.0 567.8 L529.0 472.0 L671.0 472.0 L758.3 364.0 L714.0 472.0 L734.3 472.0 L734.3 567.8 Z" fill="#fff" stroke="#c6005f" stroke-width="2.1" stroke-linejoin="miter" stroke-miterlimit="40"/>
<path d="M759.2 662.0 L759.2 563.3 L787.8 563.3 L795.9 382.8 L815.0 563.3 L935.0 563.3 L935.0 662.0 Z" fill="#fff" stroke="#c6005f" stroke-width="2.1" stroke-linejoin="miter" stroke-miterlimit="40"/>
<path d="M838.0 545.0 L838.0 477.5 L814.6 372.8 L857.0 452.5 L959.0 452.5 L959.0 545.0 Z" fill="#fff" stroke="#c6005f" stroke-width="2.1" stroke-linejoin="miter" stroke-miterlimit="40"/>
<circle cx="790.2" cy="335.2" r="27.6" fill="#c6005f"/>
<clipPath id="manclip2"><circle cx="790.2" cy="335.2" r="24.3"/></clipPath>
<circle cx="790.2" cy="335.2" r="24.3" fill="#d6d6d6"/>
<g clip-path="url(#manclip2)">
<path d="M780.6 339.7 C777.6 339.9 768.7 342.5 767.0 343.9 C765.3 345.3 763.9 350.6 763.6 353.9 C763.3 357.1 758.8 374.2 764.2 376.5 C769.6 378.8 812.7 378.3 817.9 376.5 C823.2 374.7 817.9 361.0 816.8 358.4 C815.7 355.8 809.2 351.8 807.2 350.2 C805.1 348.7 799.1 343.6 796.4 342.6 C793.8 341.5 783.5 339.6 780.6 339.7 Z" fill="#472a12"/>
<path d="M782.1 339.7 L779.7 348.2 L781.2 376.5 L789.1 376.5 L795.9 343.7 L794.7 340.3 Z" fill="#ffffff"/>
<path d="M780.6 339.7 L774.4 345.4 L779.7 376.5 L781.5 376.5 L779.7 348.2 L782.1 340.1 Z" fill="#3a200c"/>
<path d="M795.9 343.1 L798.7 348.2 L789.6 376.5 L787.6 376.5 Z" fill="#3a200c"/>
<path d="M786.0 336.3 L795.5 337.5 L795.3 343.1 L788.5 346.5 L782.3 340.1 Z" fill="#d9a27e"/>
<path d="M784.5 347.1 L788.5 346.5 L789.4 349.9 L787.4 376.5 L782.3 376.5 L785.3 351.0 Z" fill="#8f1d14"/>
<path d="M784.5 319.4 C786.1 317.5 790.6 316.3 793.6 316.5 C796.6 316.7 801.1 318.4 802.6 320.5 C804.2 322.6 803.5 326.2 803.0 329.0 C802.5 331.8 801.2 335.4 799.8 337.5 C798.4 339.5 796.3 341.0 794.7 341.4 C793.1 341.9 791.7 341.2 790.2 340.3 C788.7 339.3 787.0 337.8 786.0 335.8 C785.0 333.7 784.4 330.6 784.2 327.8 C784.0 325.1 783.0 321.2 784.5 319.4 Z" fill="#e6b391"/>
<ellipse cx="783.6" cy="328.4" rx="1.40" ry="2.40" fill="#dea583"/>
<ellipse cx="803.2" cy="329.0" rx="1.20" ry="2.20" fill="#dea583"/>
<path d="M783.4 325.6 C783.0 325.0 782.0 319.9 782.6 317.7 C783.3 315.4 785.3 313.2 787.4 312.0 C789.5 310.8 792.7 310.4 795.3 310.7 C797.9 310.9 801.5 312.1 803.2 313.7 C804.9 315.3 805.5 318.4 805.5 320.5 C805.5 322.6 803.9 326.2 803.2 326.2 C802.5 326.2 802.8 321.8 801.5 320.5 C800.2 319.2 797.5 318.5 795.3 318.2 C793.1 317.9 790.2 318.3 788.5 318.8 C786.8 319.3 786.2 320.2 785.3 321.3 C784.5 322.4 783.9 326.2 783.4 325.6 Z" fill="#4c4c4c"/>
<circle cx="787.9" cy="325.4" r="3.00" fill="#f6ddd0" fill-opacity="0.4" stroke="#7d2630" stroke-width="0.80"/>
<circle cx="797.0" cy="326.9" r="3.00" fill="#f6ddd0" fill-opacity="0.4" stroke="#7d2630" stroke-width="0.80"/>
<circle cx="787.9" cy="325.4" r="0.60" fill="#333"/>
<circle cx="797.0" cy="326.9" r="0.60" fill="#333"/>
<path d="M784.5 321.3 L790.2 320.8" stroke="#3a3a3a" stroke-width="0.90" fill="none"/>
<path d="M794.7 322.2 L800.4 323.3" stroke="#3a3a3a" stroke-width="0.90" fill="none"/>
<path d="M788.5 333.7 C789.0 333.9 790.3 334.5 791.3 334.6 C792.4 334.7 794.3 334.4 794.8 334.3" stroke="#9b5a48" stroke-width="0.90" fill="none"/>
</g>
<!-- profile circle -->
<ellipse cx="546.5" cy="218.3" rx="32.8" ry="31.1" fill="#c6005f"/>
<clipPath id="manclip3"><rect x="520.8" y="199.2" width="38.3" height="40.2"/></clipPath>
<rect x="520.8" y="199.2" width="38.3" height="40.2" fill="#d9d9d9"/>
<g clip-path="url(#manclip3)">
<path d="M530.9 222.4 C528.8 222.5 522.6 224.3 521.4 225.3 C520.2 226.3 519.2 230.0 519.0 232.3 C518.8 234.5 515.6 246.5 519.4 248.1 C523.2 249.7 553.3 249.4 557.0 248.1 C560.7 246.8 556.9 237.3 556.2 235.4 C555.4 233.6 550.9 230.8 549.5 229.7 C548.0 228.6 543.8 225.1 542.0 224.3 C540.1 223.6 532.9 222.3 530.9 222.4 Z" fill="#472a12"/>
<path d="M531.9 222.4 L530.2 228.3 L531.3 248.1 L536.8 248.1 L541.6 225.1 L540.8 222.8 Z" fill="#ffffff"/>
<path d="M530.9 222.4 L526.5 226.3 L530.2 248.1 L531.5 248.1 L530.2 228.3 L531.9 222.6 Z" fill="#3a200c"/>
<path d="M541.6 224.7 L543.5 228.3 L537.2 248.1 L535.8 248.1 Z" fill="#3a200c"/>
<path d="M534.7 220.0 L541.3 220.8 L541.2 224.7 L536.4 227.1 L532.1 222.6 Z" fill="#d9a27e"/>
<path d="M533.6 227.5 L536.4 227.1 L537.0 229.5 L535.6 248.1 L532.1 248.1 L534.2 230.3 Z" fill="#8f1d14"/>
<path d="M533.6 208.1 C534.7 206.8 537.9 206.0 540.0 206.1 C542.1 206.3 545.2 207.5 546.3 208.9 C547.4 210.4 546.9 212.9 546.5 214.8 C546.2 216.8 545.3 219.3 544.3 220.8 C543.4 222.2 541.9 223.2 540.8 223.6 C539.6 223.9 538.6 223.4 537.6 222.8 C536.6 222.1 535.4 221.0 534.7 219.6 C534.0 218.1 533.6 216.0 533.4 214.1 C533.2 212.1 532.5 209.4 533.6 208.1 Z" fill="#e6b391"/>
<ellipse cx="533.0" cy="214.5" rx="0.98" ry="1.68" fill="#dea583"/>
<ellipse cx="546.7" cy="214.8" rx="0.84" ry="1.54" fill="#dea583"/>
<path d="M532.9 212.5 C532.5 212.1 531.8 208.5 532.3 206.9 C532.8 205.4 534.1 203.8 535.6 203.0 C537.1 202.2 539.3 201.8 541.2 202.0 C543.0 202.2 545.5 203.0 546.7 204.2 C547.9 205.3 548.3 207.5 548.3 208.9 C548.3 210.4 547.2 212.9 546.7 212.9 C546.2 212.9 546.4 209.8 545.5 208.9 C544.6 208.0 542.7 207.5 541.2 207.3 C539.6 207.1 537.6 207.4 536.4 207.7 C535.3 208.1 534.8 208.7 534.2 209.5 C533.6 210.3 533.2 212.9 532.9 212.5 Z" fill="#4c4c4c"/>
<circle cx="536.0" cy="212.3" r="2.10" fill="#f6ddd0" fill-opacity="0.4" stroke="#7d2630" stroke-width="0.56"/>
<circle cx="542.3" cy="213.4" r="2.10" fill="#f6ddd0" fill-opacity="0.4" stroke="#7d2630" stroke-width="0.56"/>
<circle cx="536.0" cy="212.3" r="0.42" fill="#333"/>
<circle cx="542.3" cy="213.4" r="0.42" fill="#333"/>
<path d="M533.6 209.5 L537.6 209.1" stroke="#3a3a3a" stroke-width="0.63" fill="none"/>
<path d="M540.8 210.1 L544.7 210.9" stroke="#3a3a3a" stroke-width="0.63" fill="none"/>
<path d="M536.4 218.2 C536.7 218.3 537.7 218.7 538.4 218.8 C539.1 218.9 540.4 218.6 540.8 218.6" stroke="#9b5a48" stroke-width="0.63" fill="none"/>
</g>
<rect x="520.8" y="199.2" width="38.3" height="40.2" fill="none" stroke="#f0cfe0" stroke-width="0.9"/>
<!-- globe + pin -->
<circle cx="923.7" cy="241.7" r="36.4" fill="#c6005f"/>
<circle cx="923.7" cy="241.7" r="29.6" fill="#fff"/>
<clipPath id="globeclip"><circle cx="923.7" cy="241.7" r="30"/></clipPath>
<g clip-path="url(#globeclip)">
<rect x="921.5" y="210.7" width="4.4" height="62" fill="#c6005f"/>
<rect x="892.7" y="239.29999999999998" width="62" height="4.4" fill="#c6005f"/>
<ellipse cx="923.7" cy="241.7" rx="16.5" ry="31" fill="none" stroke="#c6005f" stroke-width="4"/>
</g>
<path d="M950.6 193.2 C956.8 193.2 961 198 961 204 C961 211 951 220 944.6 228.6 C944 222 940.3 211 940.3 204 C940.3 198 944.4 193.2 950.6 193.2 Z" fill="#fff" stroke="#fff" stroke-width="5" stroke-linejoin="round"/>
<path d="M950.6 193.2 C956.8 193.2 961 198 961 204 C961 211 951 220 944.6 228.6 C944 222 940.3 211 940.3 204 C940.3 198 944.4 193.2 950.6 193.2 Z" fill="#0a0a0a"/>
<circle cx="950.8" cy="203.4" r="5.1" fill="#fff"/>
<!-- soldier -->
<circle cx="582.9" cy="375.6" r="47" fill="#c6005f"/>
<path d="M577.6 340.2 C577.7 339.9 577.8 336.7 577.9 336.3 C578.1 336.0 579.8 334.5 580.1 334.3 C580.4 334.2 582.5 333.7 582.9 333.7 C583.3 333.7 585.7 334.2 586.0 334.3 C586.3 334.5 588.0 336.0 588.2 336.3 C588.4 336.7 588.7 339.6 588.8 339.9 C588.9 340.2 590.2 341.0 590.1 341.2 C589.9 341.3 587.1 341.7 586.9 341.9 C586.8 342.2 586.7 344.6 586.9 344.9 C587.2 345.2 590.5 346.5 591.0 346.8 C591.5 347.0 594.3 348.9 594.6 349.3 C594.9 349.7 596.1 352.8 596.3 353.5 C596.4 354.1 597.1 359.7 597.2 360.5 C597.3 361.2 598.0 366.0 598.0 366.7 C598.0 367.3 597.3 370.9 597.2 371.3 C597.1 371.8 596.0 373.0 596.0 373.7 C595.9 374.3 596.0 381.3 596.0 382.2 C596.0 383.2 595.7 389.0 595.7 390.0 C595.6 391.0 595.0 397.8 595.0 398.6 C595.1 399.3 596.4 402.1 596.6 402.5 C596.8 402.9 598.6 404.9 598.8 405.3 C598.9 405.6 599.2 407.9 598.8 408.1 C598.3 408.2 591.5 408.3 591.0 408.1 C590.5 407.9 590.5 405.4 590.4 404.8 C590.3 404.2 589.3 398.8 589.1 397.8 C588.9 396.8 587.6 389.5 587.3 388.5 C586.9 387.4 584.2 380.4 583.8 380.4 C583.5 380.4 581.9 387.4 581.7 388.5 C581.4 389.5 579.7 396.9 579.5 397.8 C579.3 398.7 578.1 403.4 577.9 404.0 C577.8 404.6 577.6 407.8 577.0 408.1 C576.4 408.3 568.8 408.2 568.3 408.1 C567.8 407.9 568.4 405.6 568.6 405.3 C568.7 404.9 570.6 402.9 570.8 402.5 C571.0 402.0 571.9 398.6 572.0 397.8 C572.1 397.0 572.9 389.6 572.9 388.5 C573.0 387.3 573.5 380.0 573.6 379.1 C573.6 378.2 573.9 374.2 573.9 373.7 C573.9 373.1 573.4 370.6 573.3 370.1 C573.1 369.6 571.1 366.5 570.8 365.9 C570.5 365.3 568.5 361.5 568.4 360.8 C568.3 360.0 568.8 354.1 568.9 353.5 C569.0 352.8 570.4 349.9 570.8 349.6 C571.1 349.2 573.8 347.5 574.3 347.2 C574.9 346.9 579.5 345.2 579.8 344.9 C580.1 344.6 580.0 342.2 579.8 341.9 C579.6 341.7 576.8 341.3 576.7 341.2 C576.5 341.1 577.5 340.5 577.6 340.2 Z" fill="#fff"/>
<path d="M593.5 369.5 L595.3 367.3 L612.5 379.4 L611.2 381.5 L604.4 376.9 L601.0 377.9 L600.3 382.2 L597.2 382.2 L597.8 376.8 L594.7 374.5 Z" fill="#fff"/>
<path d="M594.1 372.1 L591.9 381.5 L594.1 381.9 L596.6 373.7 Z" fill="#fff"/>
<path d="M574.0 353.5 L573.6 366.7" stroke="#c6005f" stroke-width="0.5" fill="none"/>
<!-- phone -->
<circle cx="691.4" cy="565" r="47.5" fill="#c6005f"/>
<rect x="662.8" y="525.3" width="58.7" height="104.6" rx="5" fill="#6f6f6f"/>
<rect x="666.3" y="535.4" width="52" height="81.4" fill="#f3ebf9"/>
<rect x="684.5" y="530.4" width="15" height="1.7" rx="0.8" fill="#fff"/>
<circle cx="692" cy="623.2" r="3.4" fill="none" stroke="#c6005f" stroke-width="1.3"/>
<rect x="675.5" y="540" width="37" height="17.5" rx="2.6" fill="#c4a0e2"/>
<path d="M676.5 541 L671.3 542.2 L676.5 547 Z" fill="#c4a0e2"/>
<rect x="671" y="562.5" width="37.5" height="13" rx="2.6" fill="#f79acd"/>
<path d="M707.5 563.5 L712.7 564.7 L707.5 569.5 Z" fill="#f79acd"/>
<rect x="675.5" y="579" width="37" height="14" rx="2.6" fill="#c4a0e2"/>
<path d="M676.5 580 L671.3 581.2 L676.5 586 Z" fill="#c4a0e2"/>
<rect x="671" y="596" width="37.5" height="16.5" rx="2.6" fill="#f79acd"/>
<path d="M707.5 597 L712.7 598.2 L707.5 603 Z" fill="#f79acd"/>
<rect x="680" y="543.5" width="28" height="1.1" fill="#fff" fill-opacity="0.9"/>
<rect x="680" y="546.7" width="28" height="1.1" fill="#fff" fill-opacity="0.9"/>
<rect x="680" y="550.4" width="22" height="1.1" fill="#fff" fill-opacity="0.9"/>
<rect x="680" y="553.6" width="22" height="1.1" fill="#fff" fill-opacity="0.9"/>
<rect x="675.5" y="566.0" width="29" height="1.1" fill="#fff" fill-opacity="0.9"/>
<rect x="675.5" y="569.2" width="29" height="1.1" fill="#fff" fill-opacity="0.9"/>
<rect x="675.5" y="572.4" width="29" height="1.1" fill="#fff" fill-opacity="0.9"/>
<rect x="680" y="582.8" width="28" height="1.1" fill="#fff" fill-opacity="0.9"/>
<rect x="680" y="586.0" width="28" height="1.1" fill="#fff" fill-opacity="0.9"/>
<rect x="680" y="589.2" width="28" height="1.1" fill="#fff" fill-opacity="0.9"/>
<rect x="682" y="600.0" width="23" height="1.1" fill="#fff" fill-opacity="0.9"/>
<rect x="682" y="603.2" width="23" height="1.1" fill="#fff" fill-opacity="0.9"/>
<rect x="682" y="606.4" width="23" height="1.1" fill="#fff" fill-opacity="0.9"/>
<circle cx="706.3" cy="552.2" r="3" fill="#f6c945"/><path d="M704 551.4 h4.6 v1.4 h-4.6 Z" fill="#7a2a1a"/><path d="M704.2 553.4 q2.1 2 4.2 0" fill="#b3202b"/>
<circle cx="678.6" cy="606" r="3" fill="#f6c945"/><circle cx="679.6" cy="607" r="1.5" fill="#e0457b"/><circle cx="677.4" cy="604.8" r="0.7" fill="#5a3a1a"/>
<!-- stopwatch -->
<circle cx="950.3" cy="527.1" r="27" fill="#c6005f"/>
<path d="M958 527.8 H975 M958.5 531.6 H971.5 M959 535.4 H967" stroke="#f3a9cd" stroke-width="1.1" fill="none"/>
<circle cx="938.2" cy="533.6" r="19.6" fill="#fff"/>
<rect x="932.6" y="508.6" width="9" height="7" rx="1.2" fill="#fff" stroke="#fff" stroke-width="2.4"/>
<rect x="-4" y="-2.6" width="8" height="5.2" rx="1.6" transform="translate(953.6,516.6) rotate(38)" fill="#fff" stroke="#fff" stroke-width="2.6"/>
<circle cx="938.2" cy="533.6" r="16.6" fill="#fff" stroke="#111" stroke-width="2.6"/>
<circle cx="938.2" cy="533.6" r="13.2" fill="#fff" stroke="#111" stroke-width="0.8"/>
<rect x="933.2" y="509.6" width="7.6" height="5" rx="1" fill="#fff" stroke="#111" stroke-width="1.2"/>
<rect x="-3.6" y="-2" width="7.2" height="4" rx="1.4" transform="translate(953.8,516.8) rotate(38)" fill="#fff" stroke="#111" stroke-width="1.2"/>
<path d="M942.5 526.2 L944.1 523.4" stroke="#e0252f" stroke-width="0.9"/>
<path d="M945.6 529.4 L948.4 527.7" stroke="#e0252f" stroke-width="0.9"/>
<path d="M946.7 533.6 L950.0 533.6" stroke="#e0252f" stroke-width="0.9"/>
<path d="M945.6 537.9 L948.4 539.5" stroke="#e0252f" stroke-width="0.9"/>
<path d="M942.5 541.0 L944.1 543.8" stroke="#e0252f" stroke-width="0.9"/>
<path d="M937.0 533.6 V520.1" stroke="#e0252f" stroke-width="0.8" stroke-dasharray="1.5 1.2"/>
<path d="M937.0 534.2 V519.1" stroke="#111" stroke-width="1.1" fill="none"/>
<path d="M937.0 534.2 L948.8000000000001 544.4" stroke="#111" stroke-width="1.3" fill="none"/>
<circle cx="937.0" cy="534.2" r="1.7" fill="#fff" stroke="#c4161c" stroke-width="1.2"/>
<!-- money circle -->
<circle cx="934.8" cy="648.2" r="35.2" fill="#c6005f"/>
<!-- money -->
<path d="M903.5 654.9 L915.0 666.2 L915.0 674.3 L903.5 663.0 Z" fill="#d6d4d3"/>
<path d="M915.0 666.2 L952.8 649.1 L952.8 657.2 L915.0 674.3 Z" fill="#e2e0df"/>
<path d="M903.5 656.5 L915.0 667.8 L952.8 650.8" stroke="#cbc9c8" stroke-width="0.26" fill="none"/>
<path d="M903.5 658.2 L915.0 669.4 L952.8 652.4" stroke="#cbc9c8" stroke-width="0.26" fill="none"/>
<path d="M903.5 659.8 L915.0 671.0 L952.8 654.0" stroke="#cbc9c8" stroke-width="0.26" fill="none"/>
<path d="M903.5 661.4 L915.0 672.6 L952.8 655.6" stroke="#cbc9c8" stroke-width="0.26" fill="none"/>
<path d="M903.5 654.9 L941.4 637.9 L952.8 649.1 L915.0 666.2 Z" fill="#f0eeed"/>
<path d="M928.9 646.3 L940.7 641.0 L948.2 648.4 L936.5 653.7 Z" fill="none" stroke="#c9743f" stroke-width="1.44"/>
<ellipse cx="938.6" cy="647.3" rx="1.44" ry="0.94" fill="#c9743f"/>
<path d="M921.3 646.9 L924.5 645.5 L936.0 656.7 L936.0 664.8 L932.8 666.2 L932.8 658.2 Z" fill="#f6e6d6"/>
<path d="M921.3 646.9 L932.8 658.2 L932.8 666.2" stroke="#dc2a1f" stroke-width="1.27" fill="none"/>
<path d="M924.5 645.5 L936.0 656.7 L936.0 664.8" stroke="#dc2a1f" stroke-width="1.27" fill="none"/>
<path d="M889.1 662.0 L900.3 670.9 L900.3 678.8 L889.1 669.9 Z" fill="#d6d4d3"/>
<path d="M900.3 670.9 L942.2 660.4 L942.2 668.3 L900.3 678.8 Z" fill="#e2e0df"/>
<path d="M889.1 663.6 L900.3 672.5 L942.2 662.0" stroke="#cbc9c8" stroke-width="0.26" fill="none"/>
<path d="M889.1 665.2 L900.3 674.0 L942.2 663.6" stroke="#cbc9c8" stroke-width="0.26" fill="none"/>
<path d="M889.1 666.8 L900.3 675.6 L942.2 665.1" stroke="#cbc9c8" stroke-width="0.26" fill="none"/>
<path d="M889.1 668.3 L900.3 677.2 L942.2 666.7" stroke="#cbc9c8" stroke-width="0.26" fill="none"/>
<path d="M889.1 662.0 L925.3 645.9 L942.2 660.4 L900.3 670.9 Z" fill="#f0eeed"/>
<path d="M893.1 662.6 L904.0 657.7 L911.4 663.6 L900.6 668.4 Z" fill="none" stroke="#c9743f" stroke-width="1.44"/>
<ellipse cx="902.3" cy="663.1" rx="1.44" ry="0.94" fill="#c9743f"/>
<path d="M915.6 652.6 L925.0 648.4 L932.5 654.2 L923.0 658.4 Z" fill="none" stroke="#c9743f" stroke-width="1.44"/>
<ellipse cx="924.0" cy="653.4" rx="1.44" ry="0.94" fill="#c9743f"/>
<path d="M904.3 655.3 L911.5 652.0 L922.8 660.9 L922.8 668.8 L915.5 672.0 L915.5 664.1 Z" fill="#f6e6d6"/>
<path d="M904.3 655.3 L915.5 664.1 L915.5 672.0" stroke="#dc2a1f" stroke-width="1.27" fill="none"/>
<path d="M911.5 652.0 L922.8 660.9 L922.8 668.8" stroke="#dc2a1f" stroke-width="1.27" fill="none"/>
<path d="M884.2 648.5 L895.3 658.0 L895.3 666.0 L884.2 656.5 Z" fill="#d6d4d3"/>
<path d="M895.3 658.0 L933.5 640.3 L933.5 648.3 L895.3 666.0 Z" fill="#e2e0df"/>
<path d="M884.2 650.1 L895.3 659.6 L933.5 641.9" stroke="#cbc9c8" stroke-width="0.26" fill="none"/>
<path d="M884.2 651.7 L895.3 661.2 L933.5 643.5" stroke="#cbc9c8" stroke-width="0.26" fill="none"/>
<path d="M884.2 653.3 L895.3 662.8 L933.5 645.1" stroke="#cbc9c8" stroke-width="0.26" fill="none"/>
<path d="M884.2 654.9 L895.3 664.4 L933.5 646.7" stroke="#cbc9c8" stroke-width="0.26" fill="none"/>
<path d="M884.2 648.5 L922.1 631.4 L933.5 640.3 L895.3 658.0 Z" fill="#f0eeed"/>
<path d="M888.4 649.1 L898.6 644.5 L905.9 650.8 L895.7 655.4 Z" fill="none" stroke="#c9743f" stroke-width="1.44"/>
<ellipse cx="897.2" cy="649.9" rx="1.44" ry="0.94" fill="#c9743f"/>
<path d="M911.5 638.7 L921.7 634.1 L929.0 640.3 L918.8 644.9 Z" fill="none" stroke="#c9743f" stroke-width="1.44"/>
<ellipse cx="920.2" cy="639.5" rx="1.44" ry="0.94" fill="#c9743f"/>
<path d="M898.2 642.2 L908.1 637.7 L919.2 647.2 L919.2 655.3 L909.3 659.7 L909.3 651.7 Z" fill="#f6e6d6"/>
<path d="M898.2 642.2 L909.3 651.7 L909.3 659.7" stroke="#dc2a1f" stroke-width="1.27" fill="none"/>
<path d="M908.1 637.7 L919.2 647.2 L919.2 655.3" stroke="#dc2a1f" stroke-width="1.27" fill="none"/>
<g transform="translate(908.1,644.2) rotate(-24) skewX(30) scale(0.85)"><path d="M-2.4 4.2 V-4 H1.2 A2.4 2.4 0 0 1 1.2 0.8 H-4 M-4 2.8 H1.2" fill="none" stroke="#dc2a1f" stroke-width="1.7"/></g>
<!-- text: left page -->
<text x="96.8" y="44.0" font-size="16" font-weight="bold" font-style="normal" fill="#fff" textLength="309.4" lengthAdjust="spacingAndGlyphs">СХЕМА «ЗНАКОМСТВО В ИНТЕРНЕТЕ»</text>
<text x="48.7" y="89.0" font-size="12.5" font-weight="bold" font-style="normal" fill="#fff" textLength="57.0" lengthAdjust="spacingAndGlyphs">Легенда</text>
<text x="157.5" y="106.7" font-size="12" font-weight="normal" font-style="italic" fill="#111" textLength="300.0" lengthAdjust="spacingAndGlyphs">Мошенник создает фальшивый профиль на сайте знакомств</text>
<text x="157.5" y="122.7" font-size="12" font-weight="normal" font-style="italic" fill="#111" textLength="289.0" lengthAdjust="spacingAndGlyphs">или в социальных сетях. Начав общение и завоевав доверие</text>
<text x="157.5" y="138.2" font-size="12" font-style="italic" fill="#111" textLength="301.5" lengthAdjust="spacingAndGlyphs"><tspan font-weight="normal">потенциальной жертвы, </tspan><tspan font-weight="bold">мошенник обращается с просьбой,</tspan></text>
<text x="157.5" y="153.7" font-size="12" font-style="italic" fill="#111" textLength="266.5" lengthAdjust="spacingAndGlyphs"><tspan font-weight="bold">которая сводится к ПЕРЕВОДУ ДЕНЕЖНЫХ СРЕДСТВ</tspan><tspan font-weight="normal">.</tspan></text>
<text x="117.5" y="185.0" font-size="11" font-weight="bold" font-style="normal" fill="#111" textLength="93.5" lengthAdjust="spacingAndGlyphs">Переведите деньги</text>
<g transform="translate(337.5,232.5) rotate(6.8)">
<text x="0.0" y="3.5" font-size="10" font-weight="bold" font-style="normal" fill="#111" textLength="77.0" lengthAdjust="spacingAndGlyphs">Переведите деньги</text>
</g>
<text x="216.5" y="421.0" font-size="13" font-weight="bold" font-style="normal" fill="#fff" textLength="34.0" lengthAdjust="spacingAndGlyphs">Цель</text>
<text x="211.5" y="441.0" font-size="10.9" font-weight="bold" font-style="normal" fill="#111" textLength="122.5" lengthAdjust="spacingAndGlyphs">Получение денежных</text>
<text x="211.5" y="454.6" font-size="10.9" font-weight="bold" font-style="normal" fill="#111" textLength="108.0" lengthAdjust="spacingAndGlyphs">средств от жертвы.</text>
<text x="49.5" y="510.5" font-size="13" font-weight="bold" font-style="normal" fill="#fff" textLength="152.0" lengthAdjust="spacingAndGlyphs">Механизм кражи денег</text>
<text x="120.0" y="542.0" font-size="11.5" font-weight="bold" font-style="normal" fill="#111" textLength="303.3" lengthAdjust="spacingAndGlyphs">СОЦИАЛЬНАЯ ИНЖЕНЕРИЯ. Мошенники используют</text>
<text x="120.0" y="555.3" font-size="11.5" font-weight="bold" font-style="normal" fill="#111" textLength="340.0" lengthAdjust="spacingAndGlyphs">ПСИХОЛОГИЧЕСКИЕ ПРИЁМЫ для управления действиями</text>
<text x="120.0" y="568.2" font-size="11.5" font-weight="bold" font-style="normal" fill="#111" textLength="336.0" lengthAdjust="spacingAndGlyphs">человека, в том числе посредством ФИШИНГОВОЙ АТАКИ.</text>
<text x="120" y="585.7" font-size="11.5" fill="#111" textLength="262.5" lengthAdjust="spacingAndGlyphs"><tspan font-weight="bold">Фишинг – </tspan><tspan font-weight="normal">это вид мошенничества, при котором</tspan></text>
<text x="120.0" y="598.9" font-size="11.5" font-weight="normal" font-style="normal" fill="#111" textLength="307.0" lengthAdjust="spacingAndGlyphs">злоумышленники маскируются под другие организации</text>
<text x="120.0" y="612.0" font-size="11.5" font-weight="normal" font-style="normal" fill="#111" textLength="270.5" lengthAdjust="spacingAndGlyphs">или лица и используют поддельные электронные</text>
<text x="120.0" y="625.0" font-size="11.5" font-weight="normal" font-style="normal" fill="#111" textLength="262.5" lengthAdjust="spacingAndGlyphs">сообщения, ссылки или сайты, чтобы завладеть</text>
<text x="120.0" y="638.0" font-size="11.5" font-weight="normal" font-style="normal" fill="#111" textLength="275.0" lengthAdjust="spacingAndGlyphs">денежными средствами жертвы, а также получить</text>
<text x="120.0" y="651.6" font-size="11.5" font-weight="normal" font-style="normal" fill="#111" textLength="311.6" lengthAdjust="spacingAndGlyphs">конфиденциальные данные (пароли, данные банковских</text>
<text x="120.0" y="664.8" font-size="11.5" font-weight="normal" font-style="normal" fill="#111" textLength="299.3" lengthAdjust="spacingAndGlyphs">карт, учетные записи), доступ к ее личному устройству.</text>
<!-- text: right page -->
<text x="651.0" y="24.0" font-size="8.5" font-weight="bold" font-style="normal" fill="#c6005f" textLength="194.0" lengthAdjust="spacingAndGlyphs">СХЕМА «ЗНАКОМСТВО В ИНТЕРНЕТЕ»</text>
<text x="541.0" y="59.0" font-size="13" font-weight="bold" font-style="normal" fill="#fff" textLength="329.5" lengthAdjust="spacingAndGlyphs">Признаки, что общение исходит от мошенников</text>
<text x="538.0" y="86.9" font-size="11.5" font-weight="bold" font-style="normal" fill="#111" textLength="343.0" lengthAdjust="spacingAndGlyphs">При изучении профиля собеседника на сайте знакомств или</text>
<text x="538.0" y="100.0" font-size="11.5" font-weight="bold" font-style="normal" fill="#111" textLength="336.5" lengthAdjust="spacingAndGlyphs">в социальных сетях, есть несколько признаков, на которые</text>
<text x="538.0" y="113.0" font-size="11.5" font-weight="bold" font-style="normal" fill="#111" textLength="159.5" lengthAdjust="spacingAndGlyphs">следует обратить внимание:</text>
<circle cx="571.75" cy="149.5" r="3.9" fill="#000"/>
<text x="586.0" y="153.8" font-size="11.5" font-weight="bold" font-style="normal" fill="#111" textLength="139.0" lengthAdjust="spacingAndGlyphs">в профиле мошенников,</text>
<text x="586.0" y="166.8" font-size="11.5" font-weight="bold" font-style="normal" fill="#111" textLength="104.5" lengthAdjust="spacingAndGlyphs">как правило, мало</text>
<text x="586.0" y="180.0" font-size="11.5" font-weight="bold" font-style="normal" fill="#111" textLength="81.0" lengthAdjust="spacingAndGlyphs">информации и</text>
<text x="586.0" y="192.5" font-size="11.5" font-weight="bold" font-style="normal" fill="#111" textLength="107.0" lengthAdjust="spacingAndGlyphs">фотографий, а сам</text>
<text x="586.0" y="205.8" font-size="11.5" font-weight="bold" font-style="normal" fill="#111" textLength="92.0" lengthAdjust="spacingAndGlyphs">профиль создан</text>
<text x="586.0" y="218.8" font-size="11.5" font-weight="bold" font-style="normal" fill="#111" textLength="46.5" lengthAdjust="spacingAndGlyphs">недавно</text>
<circle cx="785.75" cy="166.25" r="3.9" fill="#000"/>
<text x="798.0" y="169.2" font-size="11.5" font-weight="bold" font-style="normal" fill="#111" textLength="96.0" lengthAdjust="spacingAndGlyphs">ищут знакомства</text>
<text x="798.0" y="182.0" font-size="11.5" font-weight="bold" font-style="normal" fill="#111" textLength="99.5" lengthAdjust="spacingAndGlyphs">в Вашем регионе,</text>
<text x="798.0" y="195.0" font-size="11.5" font-weight="bold" font-style="normal" fill="#111" textLength="120.0" lengthAdjust="spacingAndGlyphs">но ЖИВУТ В ДРУГОЙ</text>
<text x="798.0" y="207.5" font-size="11.5" font-weight="bold" font-style="normal" fill="#111" textLength="45.0" lengthAdjust="spacingAndGlyphs">СТРАНЕ</text>
<circle cx="558.25" cy="282" r="3.9" fill="#000"/>
<text x="568.8" y="285.0" font-size="11.5" font-weight="bold" font-style="normal" fill="#111" textLength="113.0" lengthAdjust="spacingAndGlyphs">многие утверждают,</text>
<text x="568.8" y="298.0" font-size="11.5" font-weight="bold" font-style="normal" fill="#111" textLength="111.8" lengthAdjust="spacingAndGlyphs">что НАХОДЯТСЯ НА</text>
<text x="568.8" y="311.2" font-size="11.5" font-weight="bold" font-style="normal" fill="#111" textLength="110.2" lengthAdjust="spacingAndGlyphs">ВОЕННОЙ СЛУЖБЕ</text>
<text x="568.8" y="324.2" font-size="11.5" font-weight="bold" font-style="normal" fill="#111" textLength="106.2" lengthAdjust="spacingAndGlyphs">В ДРУГОЙ СТРАНЕ</text>
<circle cx="536.25" cy="485.5" r="3.9" fill="#000"/>
<text x="545.0" y="490.8" font-size="11.5" font-weight="bold" font-style="normal" fill="#111" textLength="166.0" lengthAdjust="spacingAndGlyphs">ПРЕДПОЧИТАЮТ ОБЩАТЬСЯ</text>
<text x="545.0" y="503.8" font-size="11.5" font-weight="bold" font-style="normal" fill="#111" textLength="158.0" lengthAdjust="spacingAndGlyphs">ПРИ ПОМОЩИ ТЕКСТОВЫХ</text>
<text x="545.0" y="516.8" font-size="11.5" font-weight="bold" font-style="normal" fill="#111" textLength="77.5" lengthAdjust="spacingAndGlyphs">СООБЩЕНИЙ</text>
<text x="545.0" y="529.2" font-size="11" font-weight="bold" font-style="normal" fill="#111" textLength="90.8" lengthAdjust="spacingAndGlyphs">в мессенджерах</text>
<text x="545.0" y="542.5" font-size="11" font-weight="bold" font-style="normal" fill="#111" textLength="90.0" lengthAdjust="spacingAndGlyphs">и отказываются</text>
<text x="545.0" y="555.8" font-size="11" font-weight="bold" font-style="normal" fill="#111" textLength="94.2" lengthAdjust="spacingAndGlyphs">от видеозвонков</text>
<circle cx="850" cy="464.5" r="3.9" fill="#000"/>
<text x="859.2" y="467.5" font-size="11.5" font-weight="bold" font-style="normal" fill="#111" textLength="57.8" lengthAdjust="spacingAndGlyphs">постоянно</text>
<text x="859.2" y="480.5" font-size="11.5" font-weight="bold" font-style="normal" fill="#111" textLength="77.8" lengthAdjust="spacingAndGlyphs">придумывают</text>
<text x="859.2" y="493.2" font-size="11.5" font-weight="bold" font-style="normal" fill="#111" textLength="50.8" lengthAdjust="spacingAndGlyphs">причины,</text>
<text x="859.2" y="506.2" font-size="11.5" font-weight="bold" font-style="normal" fill="#111" textLength="62.8" lengthAdjust="spacingAndGlyphs">мешающие</text>
<text x="859.2" y="519.2" font-size="11.5" font-weight="bold" font-style="normal" fill="#111" textLength="50.0" lengthAdjust="spacingAndGlyphs">реальной</text>
<text x="859.2" y="532.0" font-size="11.5" font-weight="bold" font-style="normal" fill="#111" textLength="42.5" lengthAdjust="spacingAndGlyphs">встрече</text>
<circle cx="770" cy="581.75" r="3.9" fill="#000"/>
<text x="780.0" y="585.0" font-size="11.5" font-weight="bold" font-style="normal" fill="#111" textLength="147.0" lengthAdjust="spacingAndGlyphs">часто просят финансовую</text>
<text x="780.0" y="598.0" font-size="11.5" font-weight="bold" font-style="normal" fill="#111" textLength="110.8" lengthAdjust="spacingAndGlyphs">помощь (пополнить</text>
<text x="780.0" y="610.8" font-size="11.5" font-weight="bold" font-style="normal" fill="#111" textLength="109.5" lengthAdjust="spacingAndGlyphs">баланс мобильного</text>
<text x="780.0" y="623.8" font-size="11.5" font-weight="bold" font-style="normal" fill="#111" textLength="110.8" lengthAdjust="spacingAndGlyphs">телефона, оплатить</text>
<text x="780.0" y="636.8" font-size="11.5" font-weight="bold" font-style="normal" fill="#111" textLength="92.5" lengthAdjust="spacingAndGlyphs">какую-то услугу)</text>
</svg>
</body></html>
